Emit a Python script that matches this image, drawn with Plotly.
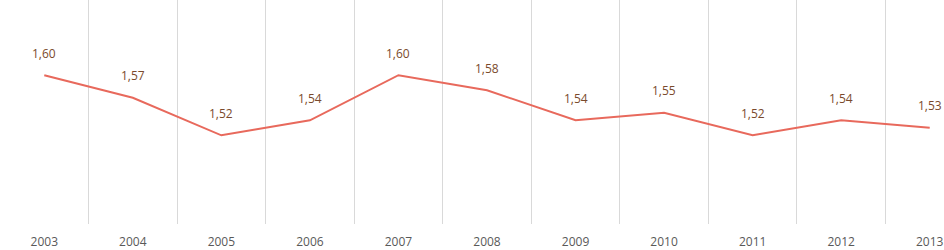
import plotly.graph_objects as go

years = ["2003", "2004", "2005", "2006", "2007", "2008", "2009", "2010", "2011", "2012", "2013"]
values = [1.60, 1.57, 1.52, 1.54, 1.60, 1.58, 1.54, 1.55, 1.52, 1.54, 1.53]
labels = [f"{v:.2f}".replace(".", ",") for v in values]

xs = list(range(len(years)))
bounds = [i - 0.5 for i in range(len(years) + 1)]

fig = go.Figure()
fig.add_trace(go.Scatter(x=xs, y=values, mode="lines",
                         line=dict(color="#E8695C", width=2), hoverinfo="skip"))

for x, y, t in zip(xs, values, labels):
    fig.add_annotation(x=x, y=y, text=t, showarrow=False, yshift=22,
                       font=dict(family="Open Sans", size=12, color="#7A4A2C"))

fig.update_layout(
    width=944, height=250,
    margin=dict(l=0, r=0, t=0, b=17),
    paper_bgcolor="white", plot_bgcolor="white",
    showlegend=False,
    xaxis=dict(range=[-0.5, 10.15], tickvals=xs, ticktext=years,
               showgrid=False, zeroline=False, showline=False, ticks="",
               ticklabelstandoff=9, ticklabeloverflow="allow",
               tickfont=dict(family="Open Sans", size=12, color="#595959"),
               minor=dict(tickvals=bounds, showgrid=True, gridcolor="#D9D9D9", gridwidth=1, ticks="")),
    yaxis=dict(range=[1.402, 1.700], visible=False, showgrid=False, zeroline=False),
)

fig.write_html("out.html", config={"displayModeBar": False},
               post_script="document.body.style.margin='0';")
